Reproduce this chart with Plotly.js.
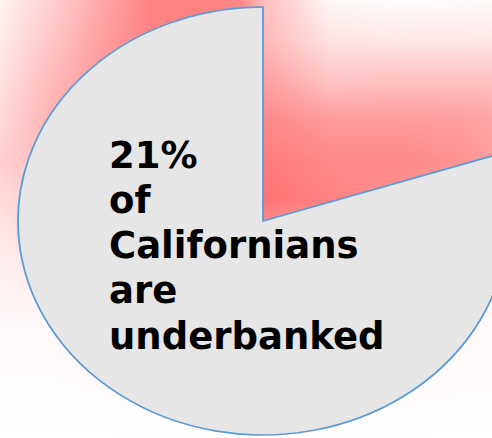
<!DOCTYPE html>
<html>
<head>
<meta charset="utf-8">
<script src="https://cdn.plot.ly/plotly-3.0.1.min.js"></script>
<style>
  html, body { margin:0; padding:0; width:492px; height:438px; overflow:hidden; background:#ffffff; }
  #pie { position:absolute; left:0; top:0; width:450px; height:438px; transform:scaleX(1.14486); transform-origin:0 0; }
  #txt { position:absolute; left:0; top:0; width:492px; height:438px; pointer-events:none; }
</style>
</head>
<body>
<div id="pie"></div>
<div id="txt"></div>
<script>
// Pie data (share of Californians, as drawn)
const sliceLabels = ['Underbanked', 'Other'];
const sliceValues = [20, 80];

// Text lines
const textLines = ['21%', 'of', 'Californians', 'are', 'underbanked'];

// Background glow intensity (0 = white, 1 = full red), sampled on a coarse pixel grid
const glowX = [0, 50, 100, 150, 200, 240, 265, 330, 400, 460, 492];
const glowY = [0, 40, 80, 120, 160, 200, 260, 320, 380, 438];
const glowZ = [
  [0.10, 0.33, 0.62, 0.88, 0.90, 0.85, 0.45, 0.05, 0.02, 0.03, 0.04],
  [0.15, 0.40, 0.68, 0.90, 0.90, 0.88, 0.50, 0.20, 0.17, 0.17, 0.18],
  [0.20, 0.50, 0.72, 0.90, 0.90, 0.88, 0.68, 0.42, 0.45, 0.45, 0.45],
  [0.28, 0.55, 0.75, 0.90, 0.90, 0.90, 0.85, 0.72, 0.72, 0.70, 0.65],
  [0.35, 0.50, 0.70, 0.85, 0.90, 0.92, 0.95, 0.85, 0.85, 0.78, 0.70],
  [0.25, 0.40, 0.60, 0.80, 0.90, 0.95, 1.00, 0.90, 0.80, 0.65, 0.55],
  [0.12, 0.20, 0.35, 0.45, 0.50, 0.50, 0.50, 0.45, 0.35, 0.20, 0.10],
  [0.05, 0.05, 0.15, 0.20, 0.20, 0.20, 0.20, 0.20, 0.15, 0.05, 0.04],
  [0.02, 0.02, 0.03, 0.05, 0.05, 0.05, 0.05, 0.05, 0.04, 0.03, 0.03],
  [0.00, 0.00, 0.00, 0.00, 0.00, 0.00, 0.00, 0.00, 0.00, 0.00, 0.00]
];

const S = 1.14486;      // horizontal stretch of the pie layer
const WU = 450, H = 438;
const cxU = 263 / S, cyTop = 221, R = 214;

const glow = {
  type: 'heatmap', x: glowX, y: glowY, z: glowZ,
  zmin: 0, zmax: 1, zsmooth: 'best', showscale: false, hoverinfo: 'skip',
  colorscale: [[0, '#ffffff'], [1, '#ff7474']]
};

const pie = {
  type: 'pie', labels: sliceLabels, values: sliceValues,
  sort: false, direction: 'clockwise', rotation: 0,
  textinfo: 'none', hoverinfo: 'skip', showlegend: false,
  marker: {
    colors: ['rgba(0,0,0,0)', '#e6e6e6'],
    line: { color: ['rgba(0,0,0,0)', '#5b9bd5'], width: [0, 1.6] }
  },
  domain: {
    x: [(cxU - R) / WU, (cxU + R) / WU],
    y: [(H - cyTop - R) / H, (H - cyTop + R) / H]
  }
};

Plotly.newPlot('pie', [glow, pie], {
  width: WU, height: H,
  margin: { l: 0, r: 0, t: 0, b: 0, pad: 0 },
  paper_bgcolor: '#ffffff', plot_bgcolor: 'rgba(0,0,0,0)',
  xaxis: { range: [0, WU * S], visible: false, fixedrange: true },
  yaxis: { range: [H, 0], visible: false, fixedrange: true },
  showlegend: false
}, { staticPlot: true, displayModeBar: false });

const firstBaseline = 168, lineStep = 45.25, fontSize = 37;
const annotations = textLines.map((t, i) => ({
  text: t, xref: 'paper', yref: 'paper',
  x: 107 / 492, xanchor: 'left',
  y: 1 - (firstBaseline + i * lineStep - 0.346 * fontSize) / H, yanchor: 'middle',
  showarrow: false, align: 'left',
  font: { family: 'DejaVu Sans, Verdana, sans-serif', size: fontSize, color: '#000000', weight: 700 }
}));

Plotly.newPlot('txt', [], {
  width: 492, height: H,
  margin: { l: 0, r: 0, t: 0, b: 0 },
  paper_bgcolor: 'rgba(0,0,0,0)', plot_bgcolor: 'rgba(0,0,0,0)',
  xaxis: { visible: false }, yaxis: { visible: false },
  annotations: annotations, showlegend: false
}, { staticPlot: true, displayModeBar: false });
</script>
</body>
</html>
